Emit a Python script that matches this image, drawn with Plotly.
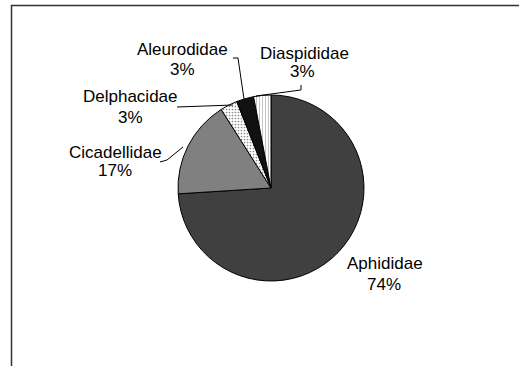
import plotly.graph_objects as go

W, H = 519, 366

families = ["Aphididae", "Cicadellidae", "Delphacidae", "Aleurodidae", "Diaspididae"]
percents = [74, 17, 3, 3, 3]
colors = ["#404040", "#808080", "#ffffff", "#111111", "#e4e4e4"]
patterns = ["", "", ".", "", "|"]
pattern_fg = ["#404040", "#808080", "#8a8a8a", "#111111", "#b0b0b0"]

# label positions (pixels) : name centre, percent centre
label_pos = {
    "Aphididae": ((385, 263), (384, 284)),
    "Cicadellidae": ((115, 152), (115, 170)),
    "Delphacidae": ((130, 97), (130, 117)),
    "Aleurodidae": ((182, 49), (182, 69.5)),
    "Diaspididae": ((304, 53), (302, 71.5)),
}
leaders = {
    "Cicadellidae": [(160, 162), (167, 160), (183, 147)],
    "Delphacidae": [(177, 107), (233, 105)],
    "Aleurodidae": [(233, 58), (238, 58), (244, 99)],
    "Diaspididae": [(301, 85), (301, 90), (256, 96)],
}

def px(x):
    return x / W

def py(y):
    return 1 - y / H

cx, cy, r = 271, 188, 93

fig = go.Figure(go.Pie(
    labels=families,
    values=percents,
    sort=False,
    direction="clockwise",
    rotation=0,
    textinfo="none",
    hoverinfo="label+percent",
    marker=dict(
        colors=colors,
        line=dict(color="#000000", width=1),
        pattern=dict(shape=patterns, fgcolor=pattern_fg, size=3, solidity=0.25),
    ),
    domain=dict(x=[px(cx - r), px(cx + r)], y=[py(cy + r), py(cy - r)]),
    showlegend=False,
))

font = dict(family="Liberation Sans, Arial, sans-serif", size=17, color="#000000")
annotations = []
for name, pct in zip(families, percents):
    (nx, ny), (qx, qy) = label_pos[name]
    annotations.append(dict(x=px(nx), y=py(ny), xref="paper", yref="paper", text=name,
                            showarrow=False, font=font, xanchor="center", yanchor="middle"))
    annotations.append(dict(x=px(qx), y=py(qy), xref="paper", yref="paper", text=f"{pct}%",
                            showarrow=False, font=font, xanchor="center", yanchor="middle"))

shapes = []
for name, pts in leaders.items():
    path = "M " + " L ".join(f"{px(x):.5f},{py(y):.5f}" for x, y in pts)
    shapes.append(dict(type="path", path=path, xref="paper", yref="paper",
                       line=dict(color="#000000", width=1)))

# chart area frame
shapes.append(dict(type="rect", xref="paper", yref="paper",
                   x0=px(11.5), x1=px(530), y0=py(380), y1=py(5.5),
                   line=dict(color="#333333", width=1.5), fillcolor="rgba(0,0,0,0)"))

fig.update_layout(
    width=W, height=H,
    margin=dict(l=0, r=0, t=0, b=0),
    paper_bgcolor="#ffffff",
    plot_bgcolor="#ffffff",
    annotations=annotations,
    shapes=shapes,
)

fig.write_html("out.html")
